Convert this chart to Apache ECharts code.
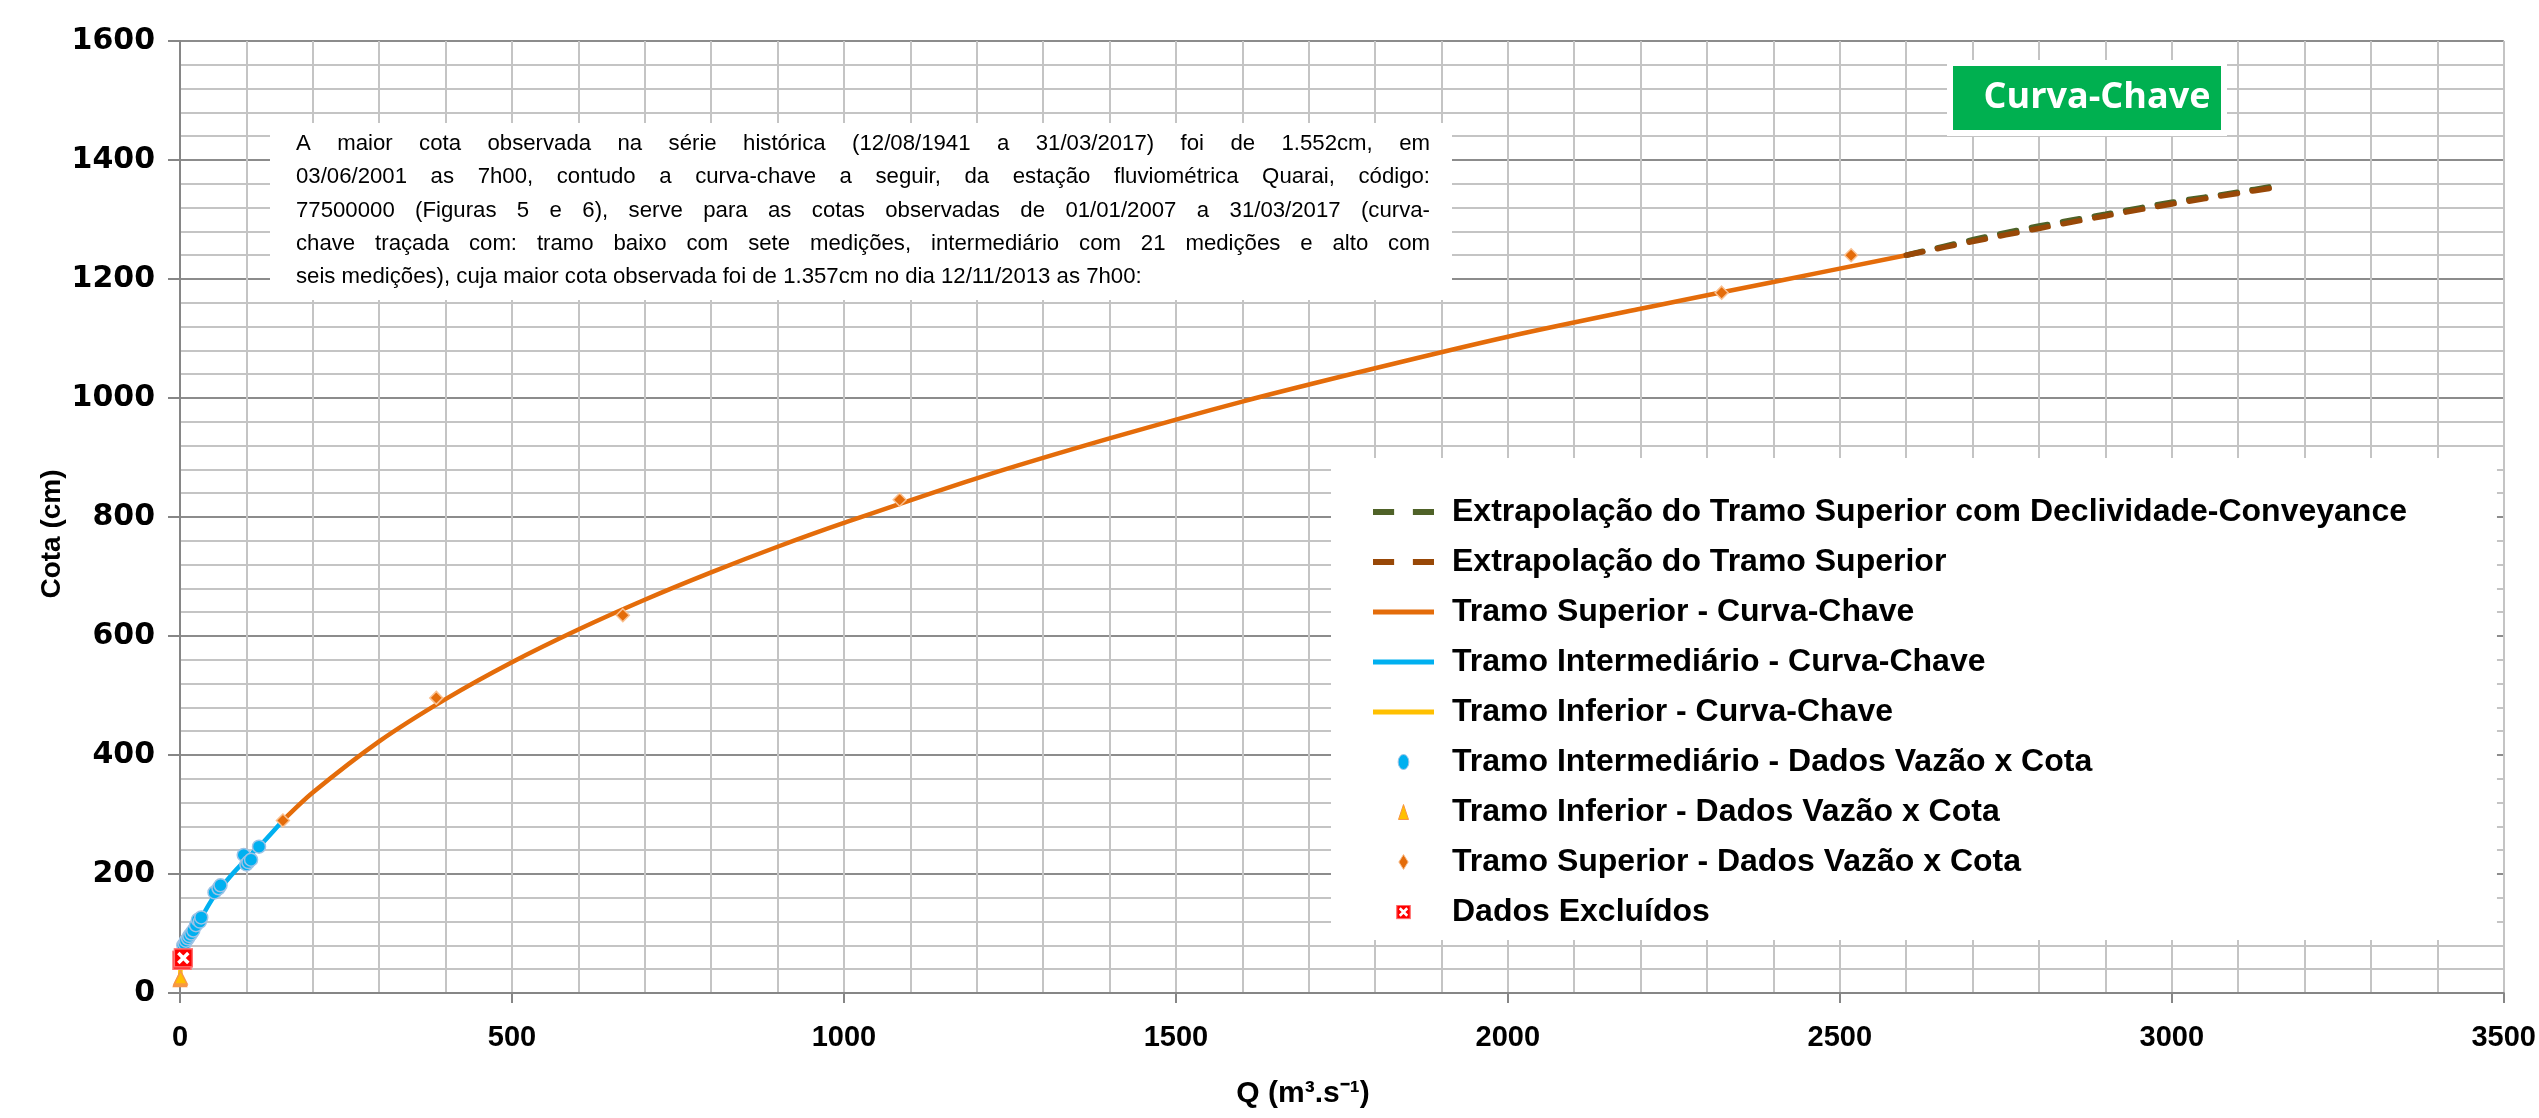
<!DOCTYPE html>
<html>
<head>
<meta charset="utf-8">
<title>Curva-Chave Quarai</title>
<script src="https://cdn.jsdelivr.net/npm/echarts@6/dist/echarts.min.js"></script>
<style>
  html, body { margin: 0; padding: 0; background: #fff; }
  #chart { width: 2539px; height: 1118px; }
</style>
</head>
<body>
<div id="chart"></div>
<script>
// curvas (Q em m3/s, cota em cm)
const extConvQ = [2600, 2700, 2800, 2900, 3000, 3100, 3157]
const extConvH = [1240, 1266, 1289, 1309, 1329, 1346, 1357]
const extSupQ = [2600, 2700, 2800, 2900, 3000, 3100, 3157]
const extSupH = [1240, 1263, 1285, 1306, 1326, 1344, 1354]
const supCurvaQ = [155, 200, 300, 400, 500, 600, 700, 800, 900, 1000, 1200, 1400, 1600, 1800, 2000, 2200, 2400, 2600]
const supCurvaH = [290, 337, 423, 494, 556, 611, 661, 707, 750, 790, 865, 932, 994, 1050, 1103, 1150, 1195, 1240]
const intCurvaQ = [3, 10, 20, 30, 50, 75, 100, 125, 155]
const intCurvaH = [75, 92, 108, 123, 160, 195, 225, 253, 290]
const infCurvaQ = [0, 1, 3]
const infCurvaH = [20, 45, 75]

// medições
const intDadosQ = [5, 7, 9, 12, 14, 17, 20, 24, 27, 30, 32, 52, 58, 61, 96, 100, 103, 107, 119]
const intDadosH = [80, 83, 88, 92, 96, 100, 105, 114, 123, 120, 127, 169, 176, 181, 232, 216, 220, 224, 246]
const infDadosQ = [0, 0.5, 1]
const infDadosH = [22, 24, 26]
const supDadosQ = [155, 386, 667, 1084, 2322, 2517]
const supDadosH = [290, 496, 635, 829, 1177, 1240]
const exclQ = [3, 5]
const exclH = [55, 59]

const names = [
  'Extrapolação do Tramo Superior com Declividade-Conveyance',
  'Extrapolação do Tramo Superior',
  'Tramo Superior - Curva-Chave',
  'Tramo Intermediário - Curva-Chave',
  'Tramo Inferior - Curva-Chave',
  'Tramo Intermediário - Dados Vazão x Cota',
  'Tramo Inferior - Dados Vazão x Cota',
  'Tramo Superior - Dados Vazão x Cota',
  'Dados Excluídos'
]

const noteLines = [
  'A maior cota observada na série histórica (12/08/1941 a 31/03/2017) foi de 1.552cm, em',
  '03/06/2001 as 7h00, contudo a curva-chave a seguir, da estação fluviométrica Quarai, código:',
  '77500000 (Figuras 5 e 6), serve para as cotas observadas de 01/01/2007 a 31/03/2017 (curva-',
  'chave traçada com: tramo baixo com sete medições, intermediário com 21 medições e alto com',
  'seis medições), cuja maior cota observada foi de 1.357cm no dia 12/11/2013 as 7h00:'
]

const zip = (q, h) => q.map((v, i) => [v, h[i]])

const exclSvg = '<svg xmlns="http://www.w3.org/2000/svg" width="20" height="20" viewBox="0 0 20 20">' +
  '<rect x="1" y="1" width="18" height="18" fill="#ff0000" stroke="#ff7070" stroke-width="1.5"/>' +
  '<path d="M5 5L15 15M15 5L5 15" stroke="#ffffff" stroke-width="3.5"/></svg>'
const exclSymbol = 'image://data:image/svg+xml;charset=utf-8,' + encodeURIComponent(exclSvg)

// icones da legenda
const iconDash = 'path://M0,0h18v5h-18zM34,0h18v5h-18z'
const iconLine = 'path://M0,0h61v5h-61z'
const iconTri = 'path://M5,0L10,15L0,15z'
const iconDiamond = 'path://M5,0L10,8L5,16L0,8z'
const iconCircle = 'path://M5,0A5,7,0,1,1,5,14A5,7,0,1,1,5,0z'

// texto justificado da nota (fonte estreita se existir)
function buildNote() {
  const ctx = document.createElement('canvas').getContext('2d')
  const family = '"Liberation Sans Narrow", "Liberation Sans"'
  ctx.font = '25px ' + family
  const lastW = ctx.measureText(noteLines[noteLines.length - 1]).width
  const size = Math.min(26, 25 * 845 / lastW)
  const font = size.toFixed(1) + 'px ' + family
  ctx.font = font
  const left = 296, width = 1134
  const els = [{
    type: 'rect', z: 10,
    shape: { x: 270, y: 123, width: 1182, height: 177 },
    style: { fill: '#fff' }
  }]
  noteLines.forEach((line, i) => {
    const y = 144 + i * 33.3
    if (i === noteLines.length - 1) {
      els.push({ type: 'text', z: 11, x: left, y: y, style: { text: line, font: font, fill: '#000', verticalAlign: 'middle' } })
      return
    }
    const words = line.split(' ')
    const ws = words.map(w => ctx.measureText(w).width)
    const gap = (width - ws.reduce((a, b) => a + b, 0)) / (words.length - 1)
    let x = left
    words.forEach((w, j) => {
      els.push({ type: 'text', z: 11, x: x, y: y, style: { text: w, font: font, fill: '#000', verticalAlign: 'middle' } })
      x += ws[j] + gap
    })
  })
  return els
}

const Chart = echarts.init(document.getElementById('chart'))

const lineSerie = (name, data, color, extra) => Object.assign({
  name: name,
  type: 'line',
  data: data,
  symbol: 'none',
  smooth: 0.3,
  itemStyle: { color: color },
  lineStyle: { color: color, width: 4.5 },
  z: 3
}, extra || {})

Chart.setOption({
  animation: false,
  backgroundColor: '#fff',
  grid: { left: 180, right: 6, top: 41, bottom: 125 },
  xAxis: {
    type: 'value',
    min: 0,
    max: 3500,
    interval: 500,
    axisLine: { show: true, lineStyle: { color: '#868686', width: 2 } },
    axisTick: { show: true, length: 10, lineStyle: { color: '#868686', width: 2 } },
    axisLabel: {
      color: '#000', fontFamily: 'Liberation Sans', fontWeight: 'bold', fontSize: 29, margin: 30,
      formatter: v => String(v)
    },
    splitLine: { show: true, lineStyle: { color: '#c4c4c4', width: 2 } },
    minorTick: { show: false, splitNumber: 5 },
    minorSplitLine: { show: true, lineStyle: { color: '#c4c4c4', width: 2 } }
  },
  yAxis: {
    type: 'value',
    min: 0,
    max: 1600,
    interval: 200,
    axisLine: { show: true, lineStyle: { color: '#868686', width: 2 } },
    axisTick: { show: true, length: 12, lineStyle: { color: '#868686', width: 2 } },
    axisLabel: {
      color: '#000', fontFamily: 'DejaVu Sans', fontWeight: 'bold', fontSize: 30, margin: 25,
      formatter: v => String(v)
    },
    splitLine: { show: true, lineStyle: { color: '#8c8c8c', width: 2 } },
    minorTick: { show: false, splitNumber: 5 },
    minorSplitLine: { show: true, lineStyle: { color: '#c4c4c4', width: 2 } }
  },
  legend: {
    orient: 'vertical',
    left: 1331,
    top: 458,
    padding: [38, 90, 12, 42],
    backgroundColor: '#fff',
    itemWidth: 61,
    itemHeight: 15,
    itemGap: 18,
    selectedMode: false,
    symbolKeepAspect: true,
    textStyle: {
      color: '#000', fontFamily: 'Liberation Sans', fontWeight: 'bold',
      fontSize: 32, lineHeight: 32, padding: [0, 0, 0, 13]
    },
    data: [
      { name: names[0], icon: iconDash, itemStyle: { color: '#4f6228', borderWidth: 0 } },
      { name: names[1], icon: iconDash, itemStyle: { color: '#984807', borderWidth: 0 } },
      { name: names[2], icon: iconLine, itemStyle: { color: '#e46c0a', borderWidth: 0 } },
      { name: names[3], icon: iconLine, itemStyle: { color: '#00b0f0', borderWidth: 0 } },
      { name: names[4], icon: iconLine, itemStyle: { color: '#ffc000', borderWidth: 0 } },
      { name: names[5], icon: iconCircle, itemStyle: { color: '#00b0f0', borderColor: '#9dc3e6', borderWidth: 1 } },
      { name: names[6], icon: iconTri, itemStyle: { color: '#ffc000', borderColor: '#f79646', borderWidth: 1 } },
      { name: names[7], icon: iconDiamond, itemStyle: { color: '#e46c0a', borderColor: '#fac090', borderWidth: 1 } },
      { name: names[8], icon: exclSymbol }
    ]
  },
  graphic: buildNote().concat([
    {
      type: 'text', x: 52, y: 534, rotation: Math.PI / 2,
      style: { text: 'Cota (cm)', font: 'bold 28px "Liberation Sans"', fill: '#000', align: 'center', verticalAlign: 'middle' }
    },
    {
      type: 'text', x: 1303, y: 1094,
      style: { text: 'Q (m³.s⁻¹)', font: 'bold 30px "Liberation Sans"', fill: '#000', align: 'center', verticalAlign: 'middle' }
    },
    { type: 'rect', z: 10, shape: { x: 1947, y: 60, width: 280, height: 76 }, style: { fill: '#fff' } },
    { type: 'rect', z: 11, shape: { x: 1953, y: 66, width: 268, height: 64 }, style: { fill: '#00b050' } },
    {
      type: 'text', z: 12, x: 2097, y: 98,
      style: { text: 'Curva-Chave', font: 'bold 36px "Open Sans"', fill: '#fff', align: 'center', verticalAlign: 'middle' }
    }
  ]),
  series: [
    lineSerie(names[0], zip(extConvQ, extConvH), '#4f6228', {
      lineStyle: { color: '#4f6228', width: 5.5, type: [17, 15], cap: 'round' }
    }),
    lineSerie(names[1], zip(extSupQ, extSupH), '#984807', {
      lineStyle: { color: '#984807', width: 5.5, type: [17, 15], cap: 'round' }, z: 4
    }),
    lineSerie(names[2], zip(supCurvaQ, supCurvaH), '#e46c0a'),
    lineSerie(names[3], zip(intCurvaQ, intCurvaH), '#00b0f0'),
    lineSerie(names[4], zip(infCurvaQ, infCurvaH), '#ffc000'),
    {
      name: names[5], type: 'scatter', z: 6, symbol: 'circle', symbolSize: 13,
      itemStyle: { color: '#00b0f0', borderColor: '#9dc3e6', borderWidth: 1.5, opacity: 1 },
      data: zip(intDadosQ, intDadosH)
    },
    {
      name: names[6], type: 'scatter', z: 6, symbol: 'triangle', symbolSize: 13,
      itemStyle: { color: '#ffc000', borderColor: '#f79646', borderWidth: 1.5, opacity: 1 },
      data: zip(infDadosQ, infDadosH)
    },
    {
      name: names[7], type: 'scatter', z: 6, symbol: 'diamond', symbolSize: 13,
      itemStyle: { color: '#e46c0a', borderColor: '#fac090', borderWidth: 1.5, opacity: 1 },
      data: zip(supDadosQ, supDadosH)
    },
    {
      name: names[8], type: 'scatter', z: 7, symbol: exclSymbol, symbolSize: 20,
      itemStyle: { color: '#ff0000', opacity: 1 },
      data: zip(exclQ, exclH)
    }
  ]
})
</script>
</body>
</html>
